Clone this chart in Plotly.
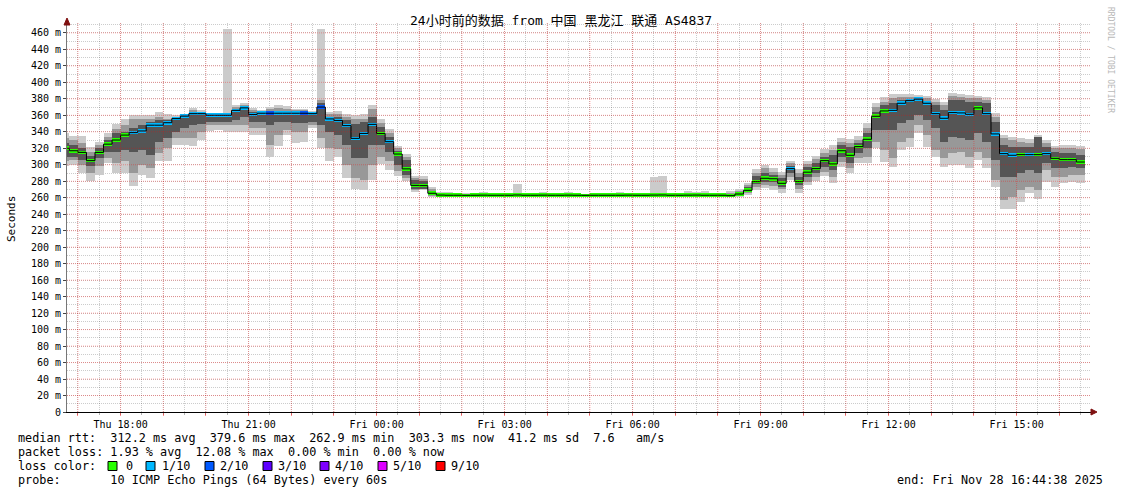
import pandas as pd
import plotly.graph_objects as go

# ---------------- data ----------------
TITLE = "24小时前的数据 from 中国 黑龙江 联通 AS4837"
START = "2025-11-27 16:44:38"
END = "2025-11-28 16:44:38"
FIRST_STEP = "2025-11-27 16:36:00"
STEP_MINUTES = 12

median = (
    [320, 317, 315, 305, 315, 325, 330, 336, 339, 341]
    + [348, 348, 351, 356, 359, 362, 362, 360, 360, 360]
    + [366, 369, 361, 362.5, 362.5, 362.5, 362.5, 362.5, 362.5, 362]
    + [370, 355.6, 353.6, 347.5, 332, 338, 349, 337.8, 328, 313]
    + [295, 275, 274.7, 265.4, 263.2, 263.0, 263.0, 262.9, 263.0, 263.1]
    + [263.0, 263.0, 263.0, 263.3, 263.0, 263.0, 263.1, 263.0, 263.0, 263.1]
    + [263.0, 262.9, 263.0, 263.0, 263.0, 263.0, 263.1, 263.0, 263.0, 263.2]
    + [263.3, 263.0, 263.0, 263.1, 263.2, 263.0, 263.0, 263.0, 262.5, 264.5]
    + [269, 279.5, 283.6, 283, 277.5, 295.3, 279.5, 291, 295.3, 305]
    + [301, 317, 311.5, 322, 330.9, 358.8, 365.3, 366, 374.6, 377.8]
    + [379.6, 374.6, 362, 356.4, 363.3, 362.9, 361.2, 369, 362, 337.4]
    + [313.5, 311.5, 312.3, 312.3, 312.3, 313.5, 307.8, 306.2, 306.2, 303.3]
)

# index into loss_colors (0 -> 0 loss, 1 -> 1/10, 2 -> 2/10)
loss = (
    [0, 0, 0, 0, 0, 0, 0, 0, 1, 1]
    + [1, 1, 1, 1, 1, 1, 1, 1, 1, 1]
    + [1, 1, 1, 1, 2, 1, 1, 1, 2, 1]
    + [2, 1, 1, 1, 1, 1, 1, 0, 1, 0]
    + [0, 0, 0, 0, 0, 0, 0, 0, 0, 0]
    + [0, 0, 0, 0, 0, 0, 0, 0, 0, 0]
    + [0, 0, 0, 0, 0, 0, 0, 0, 0, 0]
    + [0, 0, 0, 0, 0, 0, 0, 0, 0, 0]
    + [0, 0, 0, 0, 0, 1, 0, 0, 0, 0]
    + [0, 0, 0, 0, 0, 0, 0, 1, 1, 1]
    + [1, 1, 1, 1, 1, 1, 1, 0, 1, 1]
    + [1, 1, 0, 1, 0, 1, 0, 0, 0, 0]
)

outer_lo = (
    [298, 300, 290, 280, 288, 302, 290, 290, 274, 288]
    + [284, 304, 304, 324, 324, 323, 330, 341, 342, 340]
    + [340, 340, 336, 336, 309, 323, 336, 327, 328, 344]
    + [320, 304, 310, 284, 271, 269, 282, 301, 294, 286]
    + [280, 267, 269, 261, 262.4, 262.4, 262.4, 262.4, 262.4, 262.4]
    + [262.4, 262.4, 262.4, 262.4, 262.4, 262.4, 262.4, 262.4, 262.4, 262.4]
    + [262.4, 262.4, 262.4, 262.4, 262.4, 262.4, 262.4, 262.4, 262.4, 262.4]
    + [262.4, 262.4, 262.4, 262.4, 262.4, 262.4, 262.4, 262.4, 261.3, 261.3]
    + [263.3, 269.4, 271.5, 269.4, 266.2, 281.6, 266.2, 275.5, 280.8, 286.4]
    + [277.5, 297.7, 289.6, 301.8, 301.8, 320, 303.8, 297.7, 318, 322]
    + [338.2, 322, 310, 297.7, 299.8, 299.8, 295.7, 305.8, 295.7, 272.6]
    + [245.9, 245.9, 255.3, 266.2, 258, 279.5, 273.5, 277.5, 279.5, 277.5]
)
outer_hi = (
    [338, 335, 335, 322, 328, 338, 350, 356, 360, 360]
    + [360, 364, 362, 360, 361, 369, 366, 361, 362, 465]
    + [373, 375, 369, 366, 370, 373, 371, 368, 368, 365]
    + [465, 364, 365, 361, 360, 361, 373, 356, 343, 323]
    + [313, 286, 286, 273, 266.5, 266.5, 265.5, 265.5, 264, 266.5]
    + [264, 265.5, 265.5, 276.7, 265.5, 264, 266.5, 264, 265.5, 266.5]
    + [264, 264, 264, 264, 264, 266.5, 265.5, 264, 265.5, 285.2]
    + [286.8, 264, 265.5, 268, 266.5, 268, 264, 264, 268, 270.6]
    + [278.3, 294.5, 299.8, 295.7, 291.3, 305, 294.5, 305, 310.7, 318.8]
    + [324, 332.1, 330.9, 334.9, 350.3, 374.6, 381.9, 385.9, 385.9, 385.9]
    + [384.7, 383.5, 379.5, 376.6, 387.5, 385.5, 384.7, 383.5, 382.7, 362.5]
    + [336.2, 334.2, 332.1, 330.9, 336, 330, 322.8, 324, 324, 322.8]
)
mid_lo = (
    [305, 306, 300, 290, 298, 308, 302, 304, 290, 300]
    + [296, 314, 320, 332, 332, 332, 340, 348, 348, 348]
    + [348, 348, 344, 344, 324, 336, 342, 340, 340, 348]
    + [332, 320, 319, 300, 284, 282, 300, 310, 304, 292]
    + [284, 269, 270, 262, 262.6, 262.6, 262.6, 262.6, 262.6, 262.6]
    + [262.6, 262.6, 262.6, 262.6, 262.6, 262.6, 262.6, 262.6, 262.6, 262.6]
    + [262.6, 262.6, 262.6, 262.6, 262.6, 262.6, 262.6, 262.6, 262.6, 262.6]
    + [262.6, 262.6, 262.6, 262.6, 262.6, 262.6, 262.6, 262.6, 262, 262.5]
    + [265.4, 273.5, 275.5, 274.3, 270.2, 285.6, 270.2, 279.5, 284.8, 291.7]
    + [285.6, 303.8, 295.7, 307.9, 310, 328, 318, 307.9, 328, 332]
    + [348.3, 336.2, 318, 307.9, 314, 315.9, 310, 315.9, 307.9, 281.6]
    + [257.3, 261.3, 269.4, 273.5, 269.4, 293.7, 285.6, 285.6, 287.6, 287.6]
)
mid_hi = (
    [332, 330, 326, 316, 324, 334, 343, 348, 355, 355]
    + [356, 358, 356, 358, 360, 366, 364, 361, 361, 362]
    + [370, 372, 366, 365, 368, 369, 368, 366, 366, 364]
    + [379, 362, 362, 358, 356, 356, 368, 351, 339, 320]
    + [310, 284, 283, 271, 264, 264, 264, 264, 263.8, 264]
    + [263.8, 264, 264, 266, 264, 263.8, 264, 263.8, 264, 264]
    + [263.8, 263.8, 263.8, 263.8, 263.8, 264, 264, 263.8, 264, 266]
    + [266, 263.8, 264, 265, 264, 265, 263.8, 263.8, 266, 268]
    + [275.5, 290.5, 295.7, 291.7, 287.6, 301.8, 289.6, 301, 306.6, 314.7]
    + [318, 328, 326.9, 330, 344.3, 370.6, 376.6, 380.7, 382.7, 382.7]
    + [382.7, 380.7, 376.6, 372.5, 383.5, 382.7, 380.7, 380.7, 378.6, 358.4]
    + [332.1, 330, 328, 326.9, 332, 326.9, 320, 320, 320, 318.8]
)
inner_lo = (
    [310, 310, 306, 298, 308, 316, 316, 318, 316, 318]
    + [312, 328, 332, 340, 344, 348, 350, 352, 352, 352]
    + [354, 358, 352, 352, 348, 352, 352, 351, 351, 352]
    + [348, 340, 336, 324, 308, 308, 324, 324, 316, 300]
    + [288, 271, 271, 263, 262.7, 262.7, 262.7, 262.7, 262.7, 262.7]
    + [262.7, 262.7, 262.7, 262.7, 262.7, 262.7, 262.7, 262.7, 262.7, 262.7]
    + [262.7, 262.7, 262.7, 262.7, 262.7, 262.7, 262.7, 262.7, 262.7, 262.7]
    + [262.7, 262.7, 262.7, 262.7, 262.7, 262.7, 262.7, 262.7, 262.2, 263.5]
    + [267.4, 276.7, 279.5, 279.5, 273.5, 289.6, 275.5, 285.6, 289.6, 297.7]
    + [293.7, 310, 301.8, 314, 320, 342.2, 342.2, 342.2, 350.3, 354.4]
    + [360.4, 354.4, 344.3, 328, 334.2, 332.1, 330, 338.2, 328, 305.8]
    + [285.6, 285.6, 289.6, 293.7, 289.6, 301.8, 295.7, 295.7, 297.7, 295.7]
)
inner_hi = (
    [326, 324, 320, 311, 320, 330, 338, 340, 344, 348]
    + [352, 354, 354, 357, 360, 364, 364, 361, 361, 361]
    + [368, 371, 364, 364, 365, 365, 365, 364, 364, 364]
    + [375, 358, 358, 354, 350, 352, 358, 346, 334, 317]
    + [306, 281, 280, 268, 263.6, 263.6, 263.6, 263.6, 263.6, 263.6]
    + [263.6, 263.6, 263.6, 263.6, 263.6, 263.6, 263.6, 263.6, 263.6, 263.6]
    + [263.6, 263.6, 263.6, 263.6, 263.6, 263.6, 263.6, 263.6, 263.6, 263.6]
    + [263.6, 263.6, 263.6, 263.6, 263.6, 263.6, 263.6, 263.6, 264.5, 266.5]
    + [272.6, 286.4, 290.5, 287.6, 283.6, 299, 285.6, 296.9, 302.6, 309.9]
    + [311.9, 324, 322, 326.9, 338.2, 364.5, 372.5, 374.6, 378.6, 379.5]
    + [381, 376.6, 372.5, 366.5, 378.6, 378.6, 376.6, 376.6, 374.6, 352.4]
    + [324, 322, 321.2, 321.2, 334, 322, 316, 314.7, 314.7, 311.9]
)

loss_colors = ["#26ff00", "#00b8ff", "#0059ff", "#5e00ff", "#7e00ff", "#dd00ff", "#ff0000"]
loss_labels = ["0", "1/10", "2/10", "3/10", "4/10", "5/10", "9/10"]

y_ticks = list(range(0, 461, 20))
y_tick_text = ["0"] + [f"{v} m" for v in y_ticks[1:]]
x_tick_labels = ["Thu 18:00", "Thu 21:00", "Fri 00:00", "Fri 03:00",
                 "Fri 06:00", "Fri 09:00", "Fri 12:00", "Fri 15:00"]

legend_lines = [
    "median rtt:  312.2 ms avg  379.6 ms max  262.9 ms min  303.3 ms now  41.2 ms sd  7.6   am/s",
    "packet loss: 1.93 % avg  12.08 % max  0.00 % min  0.00 % now",
    "loss color:",
    "probe:       10 ICMP Echo Pings (64 Bytes) every 60s",
]
end_text = "end: Fri Nov 28 16:44:38 2025"
watermark = "RRDTOOL / TOBI OETIKER"

for arr in (loss, outer_lo, outer_hi, mid_lo, mid_hi, inner_lo, inner_hi):
    assert len(arr) == len(median)

# ---------------- styling / geometry ----------------
MONO = "DejaVu Sans Mono"
W, H = 1121, 494
L, R, T, B = 67, 30, 23, 82
PW, PH = W - L - R, H - T - B


def px(xpix):
    return (xpix - L) / PW


def py(ypix):
    return (H - B - ypix) / PH


step_ms = STEP_MINUTES * 60 * 1000
starts = pd.date_range(FIRST_STEP, periods=len(median), freq=f"{STEP_MINUTES}min")
centers = starts + pd.Timedelta(minutes=STEP_MINUTES / 2)
ends = starts + pd.Timedelta(minutes=STEP_MINUTES)

fig = go.Figure()

bands = [
    (outer_lo, outer_hi, "#cbcbcb"),
    (mid_lo, mid_hi, "#989898"),
    (inner_lo, inner_hi, "#555555"),
]
for lo, hi, col in bands:
    fig.add_trace(go.Bar(
        x=centers, base=lo, y=[h - l for l, h in zip(lo, hi)],
        width=step_ms, marker=dict(color=col, line=dict(width=0)),
        hoverinfo="skip",
    ))

# black step line through medians
fig.add_trace(go.Scatter(
    x=list(starts) + [ends[-1]], y=median + [median[-1]],
    mode="lines", line=dict(color="black", width=1, shape="hv"),
    hoverinfo="skip",
))

# coloured median segments
fig.add_trace(go.Bar(
    x=centers, base=[m - 2.2 for m in median], y=[4.4] * len(median),
    width=step_ms,
    marker=dict(color=[loss_colors[i] for i in loss], line=dict(width=0)),
    hoverinfo="skip",
))

hours = pd.date_range("2025-11-27 17:00", "2025-11-28 16:00", freq="1h")
hour_text = [t.strftime("%a %H:%M") for t in hours]
hour_text = [t if t in x_tick_labels else "" for t in hour_text]

GRID_RED = "rgba(255,0,0,0.33)"
GRID_GREY = "rgba(0,0,0,0.2)"

shapes = []
for t in hours:
    shapes.append(dict(type="line", xref="x", yref="paper", x0=t, x1=t, y0=0, y1=1,
                       line=dict(color=GRID_RED, width=1, dash="1px,1px"), layer="above"))
for v in y_ticks[1:]:
    shapes.append(dict(type="line", xref="paper", yref="y", x0=0, x1=1, y0=v, y1=v,
                       line=dict(color=GRID_RED, width=1, dash="1px,1px"), layer="above"))

# axis arrows
ARROW = "#7f1010"
shapes.append(dict(type="path", xref="paper", yref="paper",
                   path=f"M {px(64)},{py(25)} L {px(70)},{py(25)} L {px(67)},{py(18)} Z",
                   fillcolor=ARROW, line=dict(color=ARROW, width=1), layer="above"))
shapes.append(dict(type="path", xref="paper", yref="paper",
                   path=f"M {px(1091)},{py(409)} L {px(1091)},{py(415)} L {px(1097)},{py(412)} Z",
                   fillcolor=ARROW, line=dict(color=ARROW, width=1), layer="above"))

# legend colour boxes
box_x = [108, 146, 205, 263, 320, 378, 436]
label_x = [124, 160, 218, 276, 333, 391, 449]
line_y = [438, 452, 466, 480]
for bx, col in zip(box_x, loss_colors):
    shapes.append(dict(type="rect", xref="paper", yref="paper",
                       x0=px(bx), x1=px(bx + 9), y0=py(line_y[2] + 4.5), y1=py(line_y[2] - 4.5),
                       fillcolor=col, line=dict(color="black", width=1), layer="above"))

annotations = []
annotations.append(dict(text=TITLE, xref="paper", yref="paper", x=px(560.5), y=py(21),
                        xanchor="center", yanchor="middle", showarrow=False,
                        font=dict(family="DejaVu Sans Mono, Noto Sans CJK SC", size=13, color="black")))
annotations.append(dict(text="Seconds", xref="paper", yref="paper", x=px(11), y=py(219),
                        xanchor="center", yanchor="middle", textangle=-90, showarrow=False,
                        font=dict(family=MONO, size=11, color="black")))
annotations.append(dict(text=watermark, xref="paper", yref="paper", x=px(1111), y=py(60),
                        xanchor="center", yanchor="middle", textangle=90, showarrow=False,
                        font=dict(family=MONO, size=8, color="#b8b8b8")))
LEG_SIZE = 11.8
for txt, yy in zip(legend_lines, line_y):
    annotations.append(dict(text=txt.replace(" ", "&nbsp;"), xref="paper", yref="paper",
                            x=px(16), y=py(yy), xanchor="left", yanchor="middle",
                            showarrow=False, font=dict(family=MONO, size=LEG_SIZE, color="black")))
for lx, lab in zip(label_x, loss_labels):
    annotations.append(dict(text=lab, xref="paper", yref="paper", x=px(lx), y=py(line_y[2]),
                            xanchor="left", yanchor="middle", showarrow=False,
                            font=dict(family=MONO, size=LEG_SIZE, color="black")))
annotations.append(dict(text=end_text, xref="paper", yref="paper", x=px(1105), y=py(line_y[3]),
                        xanchor="right", yanchor="middle", showarrow=False,
                        font=dict(family=MONO, size=LEG_SIZE, color="black")))

fig.update_layout(
    width=W, height=H, margin=dict(l=L, r=R, t=T, b=B),
    paper_bgcolor="white", plot_bgcolor="white",
    barmode="overlay", bargap=0, showlegend=False, hovermode=False,
    font=dict(family=MONO, size=10, color="black"),
    shapes=shapes, annotations=annotations,
)
fig.update_xaxes(
    type="date", range=[START, END],
    tickmode="array", tickvals=hours, ticktext=hour_text,
    showgrid=False, zeroline=False,
    ticks="outside", ticklen=3, tickcolor="rgba(255,0,0,0.45)",
    minor=dict(dtick=1800000, tick0="2025-11-27 17:00", showgrid=True,
               gridcolor=GRID_GREY, griddash="1px,1px", gridwidth=1,
               ticks="outside", ticklen=2, tickcolor="rgba(0,0,0,0.3)"),
    showline=True, linecolor="black", linewidth=1,
    tickfont=dict(family=MONO, size=10, color="black"),
)
fig.update_yaxes(
    range=[0, 472], tickmode="array", tickvals=y_ticks, ticktext=y_tick_text,
    showgrid=False, zeroline=False,
    minor=dict(dtick=10, tick0=0, showgrid=True, gridcolor=GRID_GREY,
               griddash="1px,1px", gridwidth=1),
    ticks="outside", ticklen=3, tickcolor="#444",
    showline=True, linecolor="#777", linewidth=1,
    tickfont=dict(family=MONO, size=10, color="black"),
)

fig.write_html(
    "out.html",
    config={"displayModeBar": False},
    post_script="document.body.style.margin='0px';document.body.style.padding='0px';",
)
